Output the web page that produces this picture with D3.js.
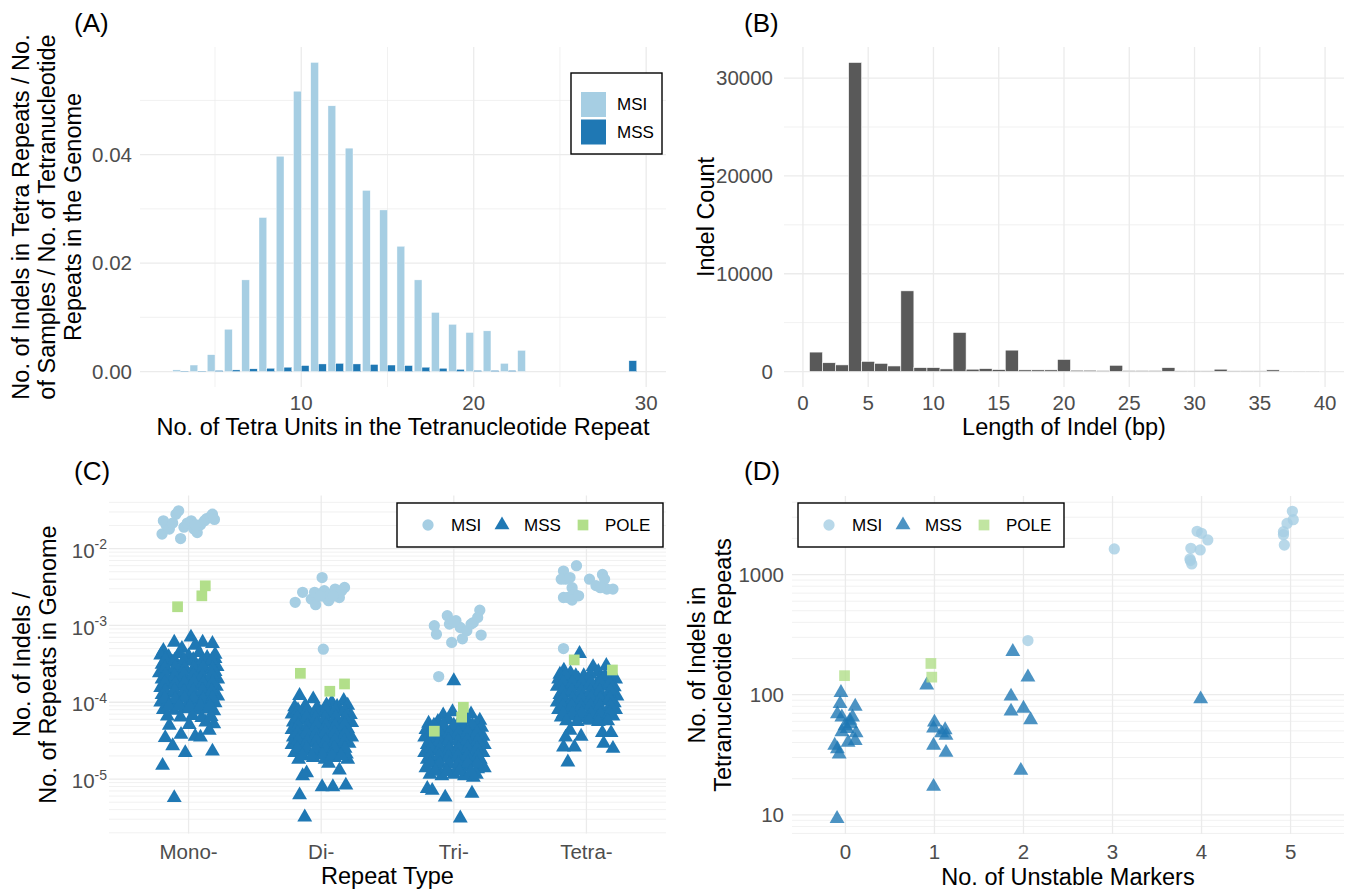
<!DOCTYPE html>
<html><head><meta charset="utf-8">
<script src="https://cdn.jsdelivr.net/npm/d3@7"></script>
<style>
body{margin:0;background:#fff;}
text{font-family:"Liberation Sans", Arial, sans-serif;}
</style></head><body>
<svg id="chart" width="1346" height="889" xmlns="http://www.w3.org/2000/svg"></svg>
<script>
// ---------------- DATA ----------------
// Panel A: indels per tetra repeat by number of tetra units
const aUnits = [3,4,5,6,7,8,9,10,11,12,13,14,15,16,17,18,19,20,21,22,23,29];
const aMSI = [0.0003,0.0012,0.0031,0.0078,0.0169,0.0284,0.0397,0.0517,0.0570,0.0490,0.0412,0.0334,0.0298,0.0231,0.0169,0.0109,0.0087,0.0072,0.0075,0.0015,0.0039,0];
const aMSS = [0.0001,0.0001,0.0002,0.0003,0.0005,0.0006,0.0008,0.0011,0.0014,0.0015,0.0014,0.0013,0.0012,0.0011,0.0008,0.0006,0.0004,0.0002,0.0002,0.0002,0,0.0020];
const aXTicks = [10,20,30];
const aYTicks = [0,0.02,0.04];

// Panel B: indel length histogram
const bLength = [1,2,3,4,5,6,7,8,9,10,11,12,13,14,15,16,17,18,19,20,21,22,23,24,25,26,27,28,29,30,31,32,33,34,35,36,37,38,39];
const bCount = [1990,900,680,31600,1040,840,570,8250,400,400,270,4000,240,300,200,2190,170,170,170,1240,135,135,100,640,100,100,100,400,70,70,70,240,70,70,70,170,35,35,35];
const bXTicks = [0,5,10,15,20,25,30,35,40];
const bYTicks = [0,10000,20000,30000];

// Panel C: indels / repeats, by repeat type  ([jitter, value])
const cTypes = ["Mono-","Di-","Tri-","Tetra-"];
const cMonoMSI = [[-0.20,0.0155],[-0.19,0.023],[-0.17,0.0205],[-0.145,0.018],[-0.12,0.0215],[-0.095,0.028],[-0.075,0.031],[-0.06,0.0135],[-0.035,0.019],[-0.01,0.0215],[0.02,0.023],[0.04,0.018],[0.065,0.0162],[0.09,0.0205],[0.12,0.023],[0.135,0.0245],[0.165,0.026],[0.18,0.028],[0.195,0.024],[0.05,0.0205]];
const cMonoPOLE = [[-0.083,0.00175],[0.10,0.00243],[0.126,0.00328]];
const cMonoMSS = [[-0.145,5.0e-5],[0.005,5.1e-5],[0.13,5.5e-5],[0.19,5.2e-5],[-0.176,3.45e-5],[-0.057,3.8e-5],[0.05,3.6e-5],[0.09,3.5e-5],[0.156,4.3e-5],[-0.12,2.7e-5],[-0.025,2.2e-5],[0.18,2.3e-5],[-0.196,1.5e-5],[-0.108,5.7e-6],
 [-0.108,6.0e-4],[0.018,7.0e-4],[0.106,6.0e-4],[0.18,5.8e-4],[-0.19,4.7e-4],[0.2,3.7e-4],[-0.05,5.0e-4],[0.05,5.5e-4],
 [-0.21,4.1e-4],[-0.15,3.9e-4],[-0.07,4.3e-4],[0.0,4.0e-4],[0.08,4.4e-4],[0.14,3.8e-4],[0.2,4.2e-4],
 [-0.2,3.1e-4],[-0.12,3.3e-4],[-0.04,3.0e-4],[0.03,3.4e-4],[0.1,3.1e-4],[0.17,3.3e-4],[0.215,2.9e-4],
 [-0.22,2.4e-4],[-0.16,2.6e-4],[-0.09,2.5e-4],[-0.02,2.6e-4],[0.06,2.4e-4],[0.13,2.6e-4],[0.2,2.5e-4],
 [-0.2,2.0e-4],[-0.13,1.9e-4],[-0.05,2.1e-4],[0.02,1.95e-4],[0.09,2.05e-4],[0.16,1.9e-4],[0.22,2.0e-4],
 [-0.21,1.55e-4],[-0.14,1.65e-4],[-0.07,1.6e-4],[0.0,1.55e-4],[0.07,1.62e-4],[0.14,1.57e-4],[0.21,1.6e-4],
 [-0.2,1.25e-4],[-0.12,1.3e-4],[-0.04,1.22e-4],[0.04,1.28e-4],[0.11,1.24e-4],[0.18,1.3e-4],[0.22,1.2e-4],
 [-0.21,1.0e-4],[-0.15,9.8e-5],[-0.08,1.02e-4],[0.0,9.7e-5],[0.07,1.0e-4],[0.14,1.03e-4],[0.2,9.8e-5],
 [-0.19,8.0e-5],[-0.11,7.8e-5],[-0.03,8.2e-5],[0.05,7.9e-5],[0.12,8.1e-5],[0.19,7.7e-5],
 [-0.16,6.6e-5],[-0.06,6.4e-5],[0.03,6.7e-5],[0.1,6.3e-5],[0.17,6.5e-5],
 [-0.175,3.6e-4],[-0.105,3.5e-4],[-0.035,3.55e-4],[0.035,3.6e-4],[0.105,3.5e-4],[0.175,3.55e-4],
 [-0.18,2.8e-4],[-0.1,2.85e-4],[-0.03,2.75e-4],[0.04,2.8e-4],[0.11,2.85e-4],[0.18,2.75e-4],
 [-0.175,2.25e-4],[-0.105,2.2e-4],[-0.035,2.3e-4],[0.035,2.25e-4],[0.105,2.2e-4],[0.175,2.3e-4],
 [-0.18,1.8e-4],[-0.1,1.75e-4],[-0.03,1.8e-4],[0.04,1.85e-4],[0.11,1.78e-4],[0.18,1.8e-4],
 [-0.175,1.4e-4],[-0.105,1.42e-4],[-0.035,1.38e-4],[0.035,1.4e-4],[0.105,1.43e-4],[0.175,1.4e-4],
 [-0.18,1.12e-4],[-0.1,1.1e-4],[-0.03,1.13e-4],[0.04,1.12e-4],[0.11,1.1e-4],[0.18,1.14e-4],
 [-0.15,8.9e-5],[-0.07,9.0e-5],[0.01,8.8e-5],[0.09,9.0e-5],[0.16,8.9e-5]];
const cDiMSI = [[-0.196,0.0020],[-0.14,0.0027],[-0.075,0.0022],[-0.042,0.00186],[-0.05,0.0027],[0.007,0.0042],[0.023,0.00283],[0.056,0.0021],[0.072,0.00256],[0.105,0.00297],[0.137,0.00231],[0.154,0.00283],[0.176,0.00312],[0.016,0.00049],[0.04,0.0023],[-0.01,0.0024],[0.09,0.0024]];
const cDiPOLE = [[-0.157,0.000238],[0.065,0.000139],[0.176,0.000173]];
const cDiMSS = [[-0.14,1.1e-5],[-0.163,6.2e-6],[-0.124,3.2e-6],[0.007,7.9e-6],[0.088,7.9e-6],[0.137,1.3e-5],[0.186,8.3e-6],[-0.11,1.2e-5],[0.055,1.6e-5],[-0.163,1.22e-4],[0.17,1.05e-4],[-0.06,1.1e-4],[0.08,1.0e-4],
 [-0.2,8.7e-5],[-0.12,9.0e-5],[-0.03,8.6e-5],[0.04,9.2e-5],[0.12,8.8e-5],[0.2,9.1e-5],
 [-0.22,7.0e-5],[-0.15,7.3e-5],[-0.08,6.9e-5],[0.0,7.2e-5],[0.07,7.0e-5],[0.15,7.4e-5],[0.22,6.9e-5],
 [-0.21,5.5e-5],[-0.13,5.8e-5],[-0.05,5.4e-5],[0.03,5.7e-5],[0.1,5.5e-5],[0.17,5.8e-5],[0.23,5.4e-5],
 [-0.22,4.4e-5],[-0.16,4.6e-5],[-0.09,4.5e-5],[-0.01,4.3e-5],[0.06,4.6e-5],[0.13,4.4e-5],[0.2,4.5e-5],
 [-0.21,3.5e-5],[-0.13,3.6e-5],[-0.05,3.4e-5],[0.02,3.6e-5],[0.09,3.4e-5],[0.16,3.6e-5],[0.23,3.5e-5],
 [-0.22,2.8e-5],[-0.15,2.7e-5],[-0.08,2.9e-5],[0.0,2.7e-5],[0.08,2.8e-5],[0.15,2.7e-5],[0.21,2.9e-5],
 [-0.2,2.2e-5],[-0.11,2.3e-5],[-0.03,2.1e-5],[0.05,2.2e-5],[0.12,2.3e-5],[0.19,2.1e-5],
 [-0.17,1.8e-5],[-0.06,1.9e-5],[0.03,1.8e-5],[0.1,1.9e-5],[0.2,1.8e-5],
 [-0.175,7.9e-5],[-0.105,8.0e-5],[-0.035,7.8e-5],[0.035,8.0e-5],[0.105,7.9e-5],[0.175,7.8e-5],
 [-0.18,6.3e-5],[-0.11,6.4e-5],[-0.04,6.2e-5],[0.03,6.3e-5],[0.11,6.4e-5],[0.18,6.2e-5],
 [-0.175,5.0e-5],[-0.105,4.9e-5],[-0.035,5.1e-5],[0.035,5.0e-5],[0.105,4.9e-5],[0.175,5.1e-5],
 [-0.18,4.0e-5],[-0.11,4.0e-5],[-0.04,3.9e-5],[0.03,4.1e-5],[0.1,4.0e-5],[0.18,3.9e-5],
 [-0.175,3.2e-5],[-0.105,3.1e-5],[-0.035,3.2e-5],[0.035,3.15e-5],[0.105,3.2e-5],[0.175,3.1e-5],
 [-0.18,2.5e-5],[-0.11,2.5e-5],[-0.04,2.45e-5],[0.03,2.5e-5],[0.1,2.55e-5],[0.18,2.5e-5],
 [-0.14,2.0e-5],[-0.07,2.0e-5],[0.01,2.05e-5],[0.08,2.0e-5],[0.15,2.0e-5]];
const cTriMSI = [[-0.147,0.00099],[-0.131,0.00077],[-0.049,0.00134],[-0.033,0.00104],[-0.016,0.0006],[0.016,0.00115],[0.049,0.00094],[0.065,0.00067],[0.098,0.00085],[0.147,0.00109],[0.18,0.00127],[0.196,0.00158],[0.206,0.00075],[0.13,0.00104],[-0.114,0.000216],[0.0,0.0011]];
const cTriPOLE = [[-0.147,4.2e-5],[0.059,6.4e-5],[0.072,8.6e-5]];
const cTriMSS = [[0.0,1.9e-4],[-0.163,7.1e-6],[-0.065,5.8e-6],[0.137,6.5e-6],[0.049,3.1e-6],[0.147,1.05e-5],[-0.2,7.5e-6],[-0.01,7.5e-5],[0.13,7.0e-5],[0.196,5.8e-5],[-0.08,6.8e-5],
 [-0.19,5.3e-5],[-0.12,5.6e-5],[-0.04,5.9e-5],[0.04,5.5e-5],[0.1,5.8e-5],[0.17,5.2e-5],
 [-0.21,4.4e-5],[-0.14,4.6e-5],[-0.07,4.5e-5],[0.01,4.3e-5],[0.08,4.6e-5],[0.15,4.4e-5],[0.21,4.7e-5],
 [-0.22,3.5e-5],[-0.15,3.6e-5],[-0.08,3.4e-5],[0.0,3.6e-5],[0.07,3.5e-5],[0.14,3.4e-5],[0.22,3.6e-5],
 [-0.2,2.8e-5],[-0.12,2.9e-5],[-0.04,2.7e-5],[0.04,2.8e-5],[0.11,2.9e-5],[0.18,2.7e-5],[0.23,2.8e-5],
 [-0.22,2.2e-5],[-0.15,2.3e-5],[-0.07,2.1e-5],[0.01,2.2e-5],[0.09,2.3e-5],[0.16,2.1e-5],[0.22,2.2e-5],
 [-0.2,1.8e-5],[-0.12,1.75e-5],[-0.04,1.85e-5],[0.05,1.8e-5],[0.12,1.75e-5],[0.2,1.8e-5],
 [-0.21,1.4e-5],[-0.13,1.45e-5],[-0.05,1.35e-5],[0.03,1.4e-5],[0.1,1.45e-5],[0.18,1.35e-5],[0.23,1.4e-5],
 [-0.18,1.15e-5],[-0.09,1.1e-5],[0.0,1.15e-5],[0.08,1.1e-5],[0.17,1.15e-5],
 [-0.15,5.0e-5],[-0.08,5.1e-5],[0.0,5.0e-5],[0.07,4.9e-5],[0.14,5.0e-5],
 [-0.175,4.0e-5],[-0.105,4.0e-5],[-0.035,3.9e-5],[0.035,4.0e-5],[0.105,4.1e-5],[0.175,4.0e-5],
 [-0.18,3.2e-5],[-0.11,3.15e-5],[-0.04,3.2e-5],[0.03,3.1e-5],[0.1,3.2e-5],[0.18,3.15e-5],
 [-0.175,2.5e-5],[-0.105,2.5e-5],[-0.035,2.45e-5],[0.035,2.5e-5],[0.105,2.55e-5],[0.175,2.5e-5],
 [-0.18,2.0e-5],[-0.11,2.0e-5],[-0.04,1.95e-5],[0.03,2.0e-5],[0.1,2.0e-5],[0.18,2.0e-5],
 [-0.175,1.6e-5],[-0.105,1.6e-5],[-0.035,1.58e-5],[0.035,1.6e-5],[0.105,1.62e-5],[0.175,1.6e-5],
 [-0.14,1.26e-5],[-0.05,1.25e-5],[0.04,1.27e-5],[0.13,1.25e-5]];
const cTetraMSI = [[-0.173,0.0051],[-0.157,0.0040],[-0.19,0.0040],[-0.124,0.0042],[-0.075,0.0060],[-0.108,0.0031],[-0.092,0.00256],[-0.173,0.00231],[-0.14,0.00231],[-0.108,0.00214],[-0.059,0.00243],[0.023,0.0040],[0.072,0.0033],[0.121,0.0046],[0.137,0.0040],[0.154,0.00297],[0.2,0.00297],[0.105,0.0031],[-0.173,0.0005]];
const cTetraPOLE = [[-0.092,0.000356],[0.196,0.000263]];
const cTetraMSS = [[-0.052,4.3e-4],[-0.173,2.6e-5],[-0.14,1.66e-5],[-0.09,2.6e-5],[-0.04,3.6e-5],[-0.157,3.5e-5],[0.12,4.0e-5],[0.2,2.5e-5],[0.13,2.9e-5],[0.186,4.0e-5],[-0.124,4.3e-5],[0.15,3.0e-4],[-0.17,2.6e-4],[0.05,2.9e-4],
 [-0.2,2.3e-4],[-0.12,2.4e-4],[-0.02,2.2e-4],[0.09,2.5e-4],[0.19,2.3e-4],
 [-0.21,2.0e-4],[-0.14,1.9e-4],[-0.06,2.0e-4],[0.02,1.95e-4],[0.1,2.0e-4],[0.17,1.9e-4],[0.22,2.0e-4],
 [-0.22,1.6e-4],[-0.15,1.55e-4],[-0.08,1.6e-4],[0.0,1.62e-4],[0.07,1.55e-4],[0.14,1.6e-4],[0.21,1.58e-4],
 [-0.2,1.25e-4],[-0.12,1.3e-4],[-0.04,1.22e-4],[0.04,1.28e-4],[0.11,1.24e-4],[0.18,1.3e-4],[0.23,1.2e-4],
 [-0.22,1.0e-4],[-0.15,9.8e-5],[-0.08,1.02e-4],[0.0,9.7e-5],[0.07,1.0e-4],[0.14,1.03e-4],[0.21,9.8e-5],
 [-0.21,8.0e-5],[-0.13,7.8e-5],[-0.05,8.2e-5],[0.03,7.9e-5],[0.1,8.1e-5],[0.17,7.7e-5],[0.22,8.0e-5],
 [-0.19,6.4e-5],[-0.1,6.6e-5],[-0.02,6.3e-5],[0.06,6.5e-5],[0.14,6.4e-5],[0.2,6.6e-5],
 [-0.16,2.25e-4],[-0.08,2.2e-4],[0.03,2.3e-4],[0.14,2.2e-4],
 [-0.175,1.8e-4],[-0.105,1.78e-4],[-0.035,1.8e-4],[0.035,1.82e-4],[0.105,1.8e-4],[0.175,1.78e-4],
 [-0.18,1.4e-4],[-0.11,1.42e-4],[-0.04,1.4e-4],[0.03,1.38e-4],[0.1,1.4e-4],[0.18,1.42e-4],
 [-0.175,1.12e-4],[-0.105,1.1e-4],[-0.035,1.12e-4],[0.035,1.13e-4],[0.105,1.1e-4],[0.175,1.12e-4],
 [-0.18,8.9e-5],[-0.11,9.0e-5],[-0.04,8.8e-5],[0.03,9.0e-5],[0.1,8.9e-5],[0.18,9.0e-5],
 [-0.175,7.1e-5],[-0.105,7.0e-5],[-0.035,7.2e-5],[0.035,7.1e-5],[0.105,7.0e-5],[0.175,7.2e-5],
 [-0.15,5.7e-5],[-0.07,5.6e-5],[0.02,5.8e-5],[0.09,5.6e-5],[0.16,5.7e-5]];
const cYTicks = [1e-5,1e-4,1e-3,1e-2];

// Panel D: indels in tetranucleotide repeats vs unstable markers ([markers, jitter, value])
const dMarkers = ["0","1","2","3","4","5"];
const dMSI = [[3,0.02,1633],[4,-0.125,1306],[4,-0.11,1225],[4,-0.13,1350],[4,-0.12,1652],[4,-0.015,1603],[4,-0.05,2290],[4,0.0,2203],[4,0.07,1940],[5,0.02,3357],[5,0.03,2864],[5,-0.04,2666],[5,-0.08,2276],[5,-0.08,2148],[5,-0.07,1762],[2,0.05,282]];
const dMSS = [[0,-0.094,9.3],[0,-0.05,104],[0,-0.06,84],[0,-0.09,69],[0,-0.04,65],[0,0.11,80],[0,0.08,65],[0,0.06,57],[0,0.02,52],[0,-0.04,49],[0,0.12,48],[0,0.03,40],[0,0.11,41.5],[0,-0.09,35.4],[0,-0.07,32],[0,-0.12,37.8],[0,0.05,61],[0,-0.005,55],
 [1,-0.087,120],[1,0.0,59],[1,-0.01,52.5],[1,0.12,51],[1,0.13,45.7],[1,-0.01,37.8],[1,0.13,33],[1,-0.01,17.2],[1,0.08,48],
 [2,-0.12,228],[2,0.05,140],[2,-0.14,97],[2,0.0,77],[2,-0.14,72.8],[2,0.08,61.7],[2,-0.03,23.4],[4,-0.01,92]];
const dPOLE = [[0,-0.01,144],[1,-0.04,182],[1,-0.03,140]];
const dYTicks = [10,100,1000];

const groups = ["MSI","MSS","POLE"];
const colMSI = "#A6CEE3", colMSS = "#1F78B4", colPOLE = "#B2DF8A";

// ---------------- DRAWING ----------------
const svg = d3.select("#chart");
svg.append("rect").attr("width",1346).attr("height",889).attr("fill","#fff");
const GRID = "#EBEBEB", TICK = "#4D4D4D";
const tickFs = 20.5, titleFs = 23.5, legFs = 17, tagFs = 26;

function hGrid(g, y, x1, x2, major){ g.append("line").attr("x1",x1).attr("x2",x2).attr("y1",y).attr("y2",y).attr("stroke",GRID).attr("stroke-width",major?1.3:0.7); }
function vGrid(g, x, y1, y2, major){ g.append("line").attr("x1",x).attr("x2",x).attr("y1",y1).attr("y2",y2).attr("stroke",GRID).attr("stroke-width",major?1.3:0.7); }
function tag(t,x,y){ svg.append("text").attr("x",x).attr("y",y).attr("font-size",tagFs).attr("fill","#000").text(t); }
function yTitle(lines, xs, cy){ lines.forEach((l,i)=>{ svg.append("text").attr("transform",`translate(${xs[i]},${cy}) rotate(-90)`).attr("text-anchor","middle").attr("font-size",titleFs).attr("fill","#000").text(l); }); }
function xTitle(t, cx, y){ svg.append("text").attr("x",cx).attr("y",y).attr("text-anchor","middle").attr("font-size",titleFs).attr("fill","#000").text(t); }
function logDomain(vals){ const e = d3.extent(vals).map(Math.log10); const p=(e[1]-e[0])*0.05; return [Math.pow(10,e[0]-p), Math.pow(10,e[1]+p)]; }
function minorLogs(lo,hi){ const out=[]; for(let k=Math.floor(Math.log10(lo)); k<=Math.ceil(Math.log10(hi)); k++){ for(let m=2;m<=9;m++){ const v=m*Math.pow(10,k); if(v>=lo&&v<=hi) out.push(v);} } return out; }

// ===== Panel A =====
{
  const L=140,R=666,T=47,B=387;
  const x = d3.scaleLinear().domain([0.65,31.15]).range([L,R]);
  const yMax = d3.max(aMSI.concat(aMSS))*1.05;
  const y = d3.scaleLinear().domain([-yMax/1.05*0.05, yMax]).range([B,T]);
  const g = svg.append("g");
  [0.01,0.03,0.05].forEach(v=>hGrid(g,y(v),L,R,false));
  [5,15,25].forEach(v=>vGrid(g,x(v),T,B,false));
  aYTicks.forEach(v=>hGrid(g,y(v),L,R,true));
  aXTicks.forEach(v=>vGrid(g,x(v),T,B,true));
  const bw = 0.45;
  g.selectAll(".msi").data(aUnits.map((u,i)=>({u,v:aMSI[i]}))).join("rect")
    .attr("x",d=>x(d.u-bw)).attr("width",d=>x(d.u)-x(d.u-bw)).attr("y",d=>y(d.v)).attr("height",d=>y(0)-y(d.v))
    .attr("fill",colMSI).attr("stroke","#fff").attr("stroke-width",0.4);
  g.selectAll(".mss").data(aUnits.map((u,i)=>({u,v:aMSS[i]}))).join("rect")
    .attr("x",d=>x(d.u)).attr("width",d=>x(d.u+bw)-x(d.u)).attr("y",d=>y(d.v)).attr("height",d=>y(0)-y(d.v))
    .attr("fill",colMSS).attr("stroke","#fff").attr("stroke-width",0.4);
  aYTicks.forEach(v=>svg.append("text").attr("x",L-8).attr("y",y(v)).attr("dy","0.35em").attr("text-anchor","end").attr("font-size",tickFs).attr("fill",TICK).text(d3.format(".2f")(v)));
  aXTicks.forEach(v=>svg.append("text").attr("x",x(v)).attr("y",410).attr("text-anchor","middle").attr("font-size",tickFs).attr("fill",TICK).text(v));
  xTitle("No. of Tetra Units in the Tetranucleotide Repeat",(L+R)/2,435);
  yTitle(["No. of Indels in Tetra Repeats / No.","of Samples / No. of Tetranucleotide","Repeats in the Genome"],[29,55,81],(T+B)/2);
  tag("(A)",74,32);
  // legend
  const lg = svg.append("g");
  lg.append("rect").attr("x",571).attr("y",73).attr("width",91).attr("height",81).attr("fill","#fff").attr("stroke","#000").attr("stroke-width",1.4);
  [["MSI",colMSI],["MSS",colMSS]].forEach((d,i)=>{
    lg.append("rect").attr("x",581).attr("y",92+i*27.5).attr("width",25).attr("height",25).attr("fill",d[1]);
    lg.append("text").attr("x",617).attr("y",104.5+i*27.5).attr("dy","0.35em").attr("font-size",legFs).attr("fill","#000").text(d[0]);
  });
}

// ===== Panel B =====
{
  const L=784,R=1344,T=47,B=387;
  const x = d3.scaleLinear().domain([-1.45,41.45]).range([L,R]);
  const yMax = d3.max(bCount)*1.05;
  const y = d3.scaleLinear().domain([-d3.max(bCount)*0.05, yMax]).range([B,T]);
  const g = svg.append("g");
  [5000,15000,25000].forEach(v=>hGrid(g,y(v),L,R,false));
  bYTicks.forEach(v=>hGrid(g,y(v),L,R,true));
  bXTicks.forEach(v=>vGrid(g,x(v),T,B,true));
  g.selectAll("rect.b").data(bLength.map((l,i)=>({l,c:bCount[i]}))).join("rect")
    .attr("x",d=>x(d.l-0.5)).attr("width",d=>x(d.l+0.5)-x(d.l-0.5)).attr("y",d=>y(d.c)).attr("height",d=>y(0)-y(d.c))
    .attr("fill","#595959").attr("stroke","#fff").attr("stroke-width",0.6);
  bYTicks.forEach(v=>svg.append("text").attr("x",L-11).attr("y",y(v)).attr("dy","0.35em").attr("text-anchor","end").attr("font-size",tickFs).attr("fill",TICK).text(v));
  bXTicks.forEach(v=>svg.append("text").attr("x",x(v)).attr("y",410).attr("text-anchor","middle").attr("font-size",tickFs).attr("fill",TICK).text(v));
  xTitle("Length of Indel (bp)",(L+R)/2,435);
  yTitle(["Indel Count"],[714],(T+B)/2);
  tag("(B)",744,32);
}

// symbol helper
const symCircle = d3.symbol().type(d3.symbolCircle).size(100)();
const symTri = d3.symbol().type(d3.symbolTriangle).size(96)();
const symSq = d3.symbol().type(d3.symbolSquare).size(115)();

function legend3(x0,y0,alpha){
  const lg = svg.append("g");
  lg.append("rect").attr("x",x0).attr("y",y0).attr("width",266).attr("height",44).attr("fill","#fff").attr("stroke","#000").attr("stroke-width",1.4);
  const cy = y0+22;
  const items = [[symCircle,colMSI,31,54],[symTri,colMSS,105,127],[symSq,colPOLE,186,208]];
  items.forEach((it,i)=>{
    lg.append("path").attr("d",it[0]).attr("transform",`translate(${x0+it[2]},${cy})`).attr("fill",it[1]).attr("fill-opacity",alpha);
    lg.append("text").attr("x",x0+it[3]).attr("y",cy).attr("dy","0.35em").attr("font-size",legFs).attr("fill","#000").text(groups[i]);
  });
}

// ===== Panel C =====
{
  const L=109,R=666,T=495.5,B=833.5;
  const x = d3.scalePoint().domain(cTypes).range([L,R]).padding(0.6);
  const step = x.step();
  const msi = [cMonoMSI,cDiMSI,cTriMSI,cTetraMSI], mss=[cMonoMSS,cDiMSS,cTriMSS,cTetraMSS], pole=[cMonoPOLE,cDiPOLE,cTriPOLE,cTetraPOLE];
  const pts = g=>g.flatMap((arr,i)=>arr.map(d=>({t:cTypes[i],dx:d[0],v:d[1]})));
  const pMSI=pts(msi), pMSS=pts(mss), pPOLE=pts(pole);
  const all = pMSI.concat(pMSS,pPOLE).map(d=>d.v);
  const y = d3.scaleLog().domain(logDomain(all)).range([B,T]);
  const g = svg.append("g");
  const [lo,hi] = y.domain();
  minorLogs(lo,hi).forEach(v=>hGrid(g,y(v),L,R,false));
  cYTicks.forEach(v=>hGrid(g,y(v),L,R,true));
  cTypes.forEach(c=>vGrid(g,x(c),T,B,true));
  const px = d=>x(d.t)+d.dx*step;
  g.selectAll("path.mss").data(pMSS).join("path").attr("d",symTri).attr("transform",d=>`translate(${px(d)},${y(d.v)})`).attr("fill",colMSS);
  g.selectAll("path.msi").data(pMSI).join("path").attr("d",symCircle).attr("transform",d=>`translate(${px(d)},${y(d.v)})`).attr("fill",colMSI);
  g.selectAll("path.pole").data(pPOLE).join("path").attr("d",symSq).attr("transform",d=>`translate(${px(d)},${y(d.v)})`).attr("fill",colPOLE);
  cYTicks.forEach(v=>{
    const t = svg.append("text").attr("x",L-2).attr("y",y(v)).attr("dy","0.45em").attr("text-anchor","end").attr("font-size",tickFs).attr("fill",TICK);
    t.append("tspan").text("10");
    t.append("tspan").attr("dy","-0.6em").attr("font-size",14).text(String(Math.round(Math.log10(v))));
  });
  cTypes.forEach(c=>svg.append("text").attr("x",x(c)).attr("y",859).attr("text-anchor","middle").attr("font-size",tickFs).attr("fill",TICK).text(c));
  xTitle("Repeat Type",(L+R)/2,884);
  yTitle(["No. of Indels /","No. of Repeats in Genome"],[30,56],(T+B)/2);
  tag("(C)",74,480);
  legend3(397,503,1);
}

// ===== Panel D =====
{
  const L=792,R=1344,T=496,B=834;
  const x = d3.scalePoint().domain(dMarkers).range([L,R]).padding(0.6);
  const step = x.step();
  const conv = arr=>arr.map(d=>({m:dMarkers[d[0]],dx:d[1],v:d[2]}));
  const pMSI=conv(dMSI), pMSS=conv(dMSS), pPOLE=conv(dPOLE);
  const y = d3.scaleLog().domain(logDomain(pMSI.concat(pMSS,pPOLE).map(d=>d.v))).range([B,T]);
  const g = svg.append("g");
  const [lo,hi] = y.domain();
  minorLogs(lo,hi).forEach(v=>hGrid(g,y(v),L,R,false));
  dYTicks.forEach(v=>hGrid(g,y(v),L,R,true));
  dMarkers.forEach(m=>vGrid(g,x(m),T,B,true));
  const px = d=>x(d.m)+d.dx*step;
  const a = 0.8;
  g.selectAll("path.msi").data(pMSI).join("path").attr("d",symCircle).attr("transform",d=>`translate(${px(d)},${y(d.v)})`).attr("fill",colMSI).attr("fill-opacity",a);
  g.selectAll("path.mss").data(pMSS).join("path").attr("d",symTri).attr("transform",d=>`translate(${px(d)},${y(d.v)})`).attr("fill",colMSS).attr("fill-opacity",a);
  g.selectAll("path.pole").data(pPOLE).join("path").attr("d",symSq).attr("transform",d=>`translate(${px(d)},${y(d.v)})`).attr("fill",colPOLE).attr("fill-opacity",a);
  dYTicks.forEach(v=>svg.append("text").attr("x",L-8).attr("y",y(v)).attr("dy","0.35em").attr("text-anchor","end").attr("font-size",tickFs).attr("fill",TICK).text(v));
  dMarkers.forEach(m=>svg.append("text").attr("x",x(m)).attr("y",859).attr("text-anchor","middle").attr("font-size",tickFs).attr("fill",TICK).text(m));
  xTitle("No. of Unstable Markers",(L+R)/2,885);
  yTitle(["No. of Indels in","Tetranucleotide Repeats"],[705,731],(T+B)/2);
  tag("(D)",744,480);
  legend3(798,503,a);
}
</script>
</body></html>
